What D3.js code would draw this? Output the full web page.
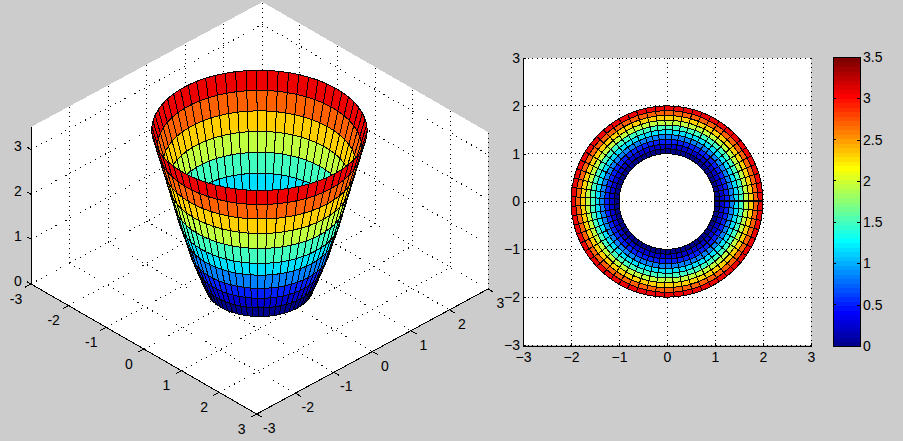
<!DOCTYPE html>
<html><head><meta charset="utf-8">
<script src="https://d3js.org/d3.v7.min.js"></script>
<style>
html,body{margin:0;padding:0;background:#cccccc;overflow:hidden}
svg{display:block}
text{font-family:"Liberation Sans",Arial,sans-serif;font-size:14px;fill:#000}
.domain{display:none}
</style></head><body>
<svg id="c" width="903" height="441"></svg>
<script>
// Surface values
const radii   = [1.0,1.1,1.2,1.3,1.4,1.5,1.6,1.7,1.8,1.9,2.0];
const heights = [0,0.26,0.54,0.83,1.19,1.52,1.92,2.32,2.71,3.10,3.48];
const angleSegments = 63;
const axisTicks = [-3,-2,-1,0,1,2,3];
const zTicks = [0,1,2,3];
const barTicks = [0,0.5,1,1.5,2,2.5,3,3.5];
const colorLevels = 64;
const zMax = 3.5;

const svg = d3.select("#c").attr("shape-rendering","crispEdges");

function jet(t){
  const c = v => Math.round(255*Math.max(0,Math.min(1,v)));
  return `rgb(${c(1.5-Math.abs(4*t-3))},${c(1.5-Math.abs(4*t-2))},${c(1.5-Math.abs(4*t-1))})`;
}
const level = d3.scaleQuantize().domain([0,zMax]).range(d3.range(colorLevels).map(i=>jet((i+1)/colorLevels)));

const angleIndex = d3.range(angleSegments);
const angle = d3.scaleLinear().domain([0,angleSegments]).range([0,2*Math.PI]);
const faces = [];
radii.slice(0,-1).forEach((r0,i)=>{
  angleIndex.forEach(j=>{
    const r1 = radii[i+1], a0 = angle(j), a1 = angle(j+1);
    const v = (r,a,z)=>({x:r*Math.cos(a),y:r*Math.sin(a),z});
    faces.push({pts:[v(r0,a0,heights[i]),v(r0,a1,heights[i]),v(r1,a1,heights[i+1]),v(r1,a0,heights[i+1])],fill:level(heights[i])});
  });
});

/* ---------- 3-D axes ---------- */
const ox=31, oy=284;
const xToSx=d3.scaleLinear([-3,3],[0,225.7]), xToSy=d3.scaleLinear([-3,3],[0,130]);
const yToSx=d3.scaleLinear([-3,3],[0,231.3]), yToSy=d3.scaleLinear([-3,3],[0,-125]);
const zToSy=d3.scaleLinear([0,zMax],[0,-157]);
const P=(x,y,z=0)=>[ox+xToSx(x)+yToSx(y), oy+xToSy(x)+yToSy(y)+zToSy(z)];
const depth=p=>0.83*(p.x-p.y)/Math.SQRT2+0.556*p.z;

const g3=svg.append("g");
const toPath=a=>"M"+a.map(p=>p.join(",")).join("L")+"Z";
g3.append("path").attr("fill","#fff")
  .attr("d",toPath([P(-3,-3,0),P(-3,-3,zMax),P(-3,3,zMax),P(3,3,zMax),P(3,3,0),P(3,-3,0)]));

const dot=(g,a,b,dash="1 3.7")=>g.append("line").attr("x1",a[0]).attr("y1",a[1]).attr("x2",b[0]).attr("y2",b[1])
  .attr("stroke","#000").attr("stroke-dasharray",dash);
const solid=(g,a,b)=>g.append("line").attr("x1",a[0]).attr("y1",a[1]).attr("x2",b[0]).attr("y2",b[1]).attr("stroke","#000");

const diag="1 4.6";
axisTicks.forEach(t=>{
  dot(g3,P(t,-3,0),P(t,3,0),diag);  // floor, constant x
  dot(g3,P(-3,t,0),P(3,t,0),diag);  // floor, constant y
  dot(g3,P(-3,t,0),P(-3,t,zMax));   // wall x=-3
  dot(g3,P(t,3,0),P(t,3,zMax));     // wall y=3
});
zTicks.forEach(t=>{
  dot(g3,P(-3,-3,t),P(-3,3,t),diag);
  dot(g3,P(-3,3,t),P(3,3,t),diag);
});

const sorted=faces.slice().sort((a,b)=>d3.mean(a.pts,depth)-d3.mean(b.pts,depth));
g3.selectAll("path.f").data(sorted).join("path").attr("class","f")
  .attr("fill",d=>d.fill).attr("stroke","#000").attr("stroke-width",1)
  .attr("d",d=>toPath(d.pts.map(p=>P(p.x,p.y,p.z))));

solid(g3,P(-3,-3,0),P(-3,-3,zMax));
solid(g3,P(-3,-3,0),P(3,-3,0));
solid(g3,P(3,-3,0),P(3,3,0));
const lab=(g,x,y,s,anchor="middle")=>g.append("text").attr("x",x).attr("y",y).attr("dy","0.36em").attr("text-anchor",anchor).text(s);
axisTicks.forEach(t=>{
  const a=P(t,-3,0), b=P(t,-3.15,0); solid(g3,a,b);
  lab(g3,a[0]-15,a[1]+14.5,t);
  const c=P(3,t,0), d=P(3.15,t,0); solid(g3,c,d);
  lab(g3,c[0]+12.5,c[1]+14,t);
});
zTicks.forEach(t=>{
  const a=P(-3,-3,t), b=P(-3.1,-3,t); solid(g3,a,b);
  lab(g3,a[0]-13,a[1]-3.5,t);
});

/* ---------- 2-D axes ---------- */
const L=523,R=811,T=58,B=345;
const sx=d3.scaleLinear([-3,3],[L,R]), sy=d3.scaleLinear([-3,3],[B,T]);
const g2=svg.append("g");
g2.append("rect").attr("x",L).attr("y",T).attr("width",R-L).attr("height",B-T).attr("fill","#fff");
axisTicks.forEach(t=>{
  dot(g2,[sx(t),T],[sx(t),B]);
  dot(g2,[L,sy(t)],[R,sy(t)]);
});
g2.selectAll("path.f").data(faces).join("path").attr("class","f")
  .attr("fill",d=>d.fill).attr("stroke","#000")
  .attr("d",d=>toPath(d.pts.map(p=>[sx(p.x),sy(p.y)])));
// the closing seam of the surface, at angle 0
g2.append("line").attr("x1",sx(radii[0])).attr("x2",sx(radii[radii.length-1]))
  .attr("y1",sy(0)-0.5).attr("y2",sy(0)-0.5).attr("stroke","#000").attr("stroke-width",2);

const ax=g2.append("g").attr("transform",`translate(0,${B+1})`)
  .call(d3.axisBottom(sx).tickValues(axisTicks).tickSizeInner(-3).tickSizeOuter(0).tickPadding(6).tickFormat(d3.format("d")));
ax.selectAll("line").attr("stroke","#000");
const ay=g2.append("g").attr("transform",`translate(${L},0)`)
  .call(d3.axisLeft(sy).tickValues(axisTicks).tickSizeInner(-3).tickSizeOuter(0).tickPadding(3).tickFormat(d3.format("d")));
ay.selectAll("line").attr("stroke","#000");
solid(g2,[L,T],[L,B+1]);
solid(g2,[L,B+1],[R+1,B+1]);
svg.selectAll(".tick text").style("font-size","14px").style("font-family",'"Liberation Sans",Arial,sans-serif').attr("fill","#000");

/* ---------- colour bar ---------- */
const bL=833,bR=860,bT=57,bB=346;
const cs=d3.scaleLinear([0,zMax],[bB,bT]);
const g4=svg.append("g");
const bandH=zMax/colorLevels;
g4.selectAll("rect").data(d3.range(colorLevels)).join("rect")
  .attr("x",bL).attr("width",bR-bL)
  .attr("y",i=>cs((i+1)*bandH)).attr("height",i=>cs(i*bandH)-cs((i+1)*bandH)+1)
  .attr("fill",i=>jet((i+1)/colorLevels));
g4.append("rect").attr("x",bL).attr("y",bT).attr("width",bR-bL).attr("height",bB-bT).attr("fill","none").attr("stroke","#000");
const ac=g4.append("g").attr("transform",`translate(${bR},0)`)
  .call(d3.axisRight(cs).tickValues(barTicks).tickSizeInner(-3).tickSizeOuter(0).tickPadding(3).tickFormat(d3.format("~g")));
ac.selectAll("line").attr("stroke","#000");
ac.selectAll("text").style("font-size","14px").style("font-family",'"Liberation Sans",Arial,sans-serif').attr("fill","#000");
barTicks.forEach(t=>solid(g4,[bL,cs(t)],[bL+3,cs(t)]));
</script>
</body></html>
